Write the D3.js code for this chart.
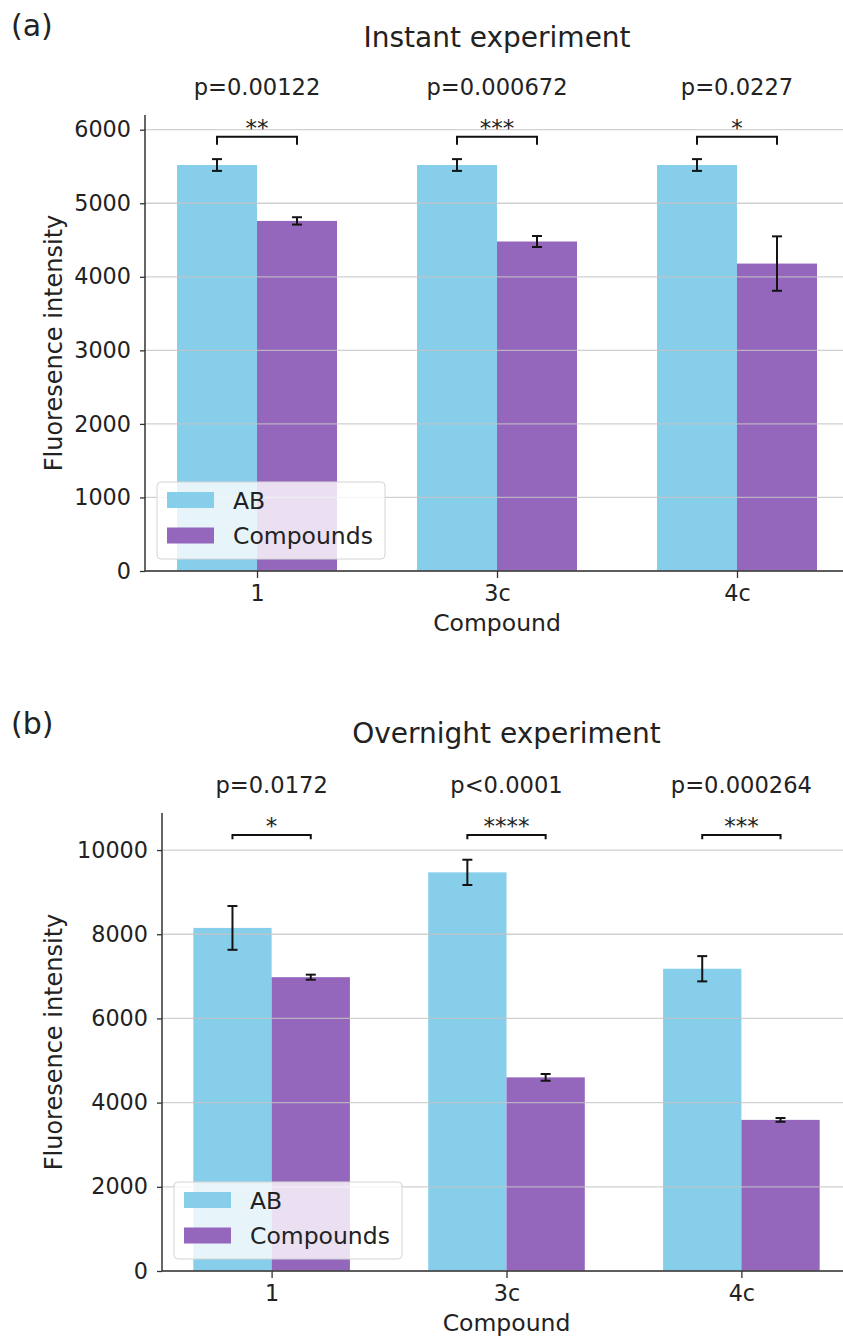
<!DOCTYPE html>
<html><head><meta charset="utf-8">
<script src="https://cdn.jsdelivr.net/npm/d3@7"></script>
<style>
body{margin:0;background:#fff}
svg{display:block}
text{font-family:"DejaVu Sans",sans-serif;fill:#222}
</style>
</head><body><svg id="c" width="843" height="1338"></svg>
<script>
// ---------- data ----------
const categories = ["1", "3c", "4c"];
const seriesNames = ["AB", "Compounds"];
const colors = ["#87ceeb", "#9467bd"];

const instantAB = [5520, 5520, 5520];
const instantABErr = [80, 80, 80];
const instantComp = [4760, 4480, 4180];
const instantCompErr = [50, 75, 370];
const instantP = ["p=0.00122", "p=0.000672", "p=0.0227"];
const instantStars = ["**", "***", "*"];
const instantTicks = [0, 1000, 2000, 3000, 4000, 5000, 6000];

const overnightAB = [8150, 9470, 7180];
const overnightABErr = [520, 300, 300];
const overnightComp = [6980, 4600, 3590];
const overnightCompErr = [60, 80, 45];
const overnightP = ["p=0.0172", "p<0.0001", "p=0.000264"];
const overnightStars = ["*", "****", "***"];
const overnightTicks = [0, 2000, 4000, 6000, 8000, 10000];

const svg = d3.select("#c");

function panel(cfg) {
  const g = svg.append("g");
  const x = d3.scaleLinear().domain([-0.4667, 2.4667]).range([cfg.left, cfg.right]);
  const y = d3.scaleLinear().domain([0, cfg.yMax]).range([cfg.bottom, cfg.top]);
  const bw = 1 / 3;
  const series = [
    {vals: cfg.ab, errs: cfg.abErr, off: -bw, color: colors[0]},
    {vals: cfg.comp, errs: cfg.compErr, off: 0, color: colors[1]}
  ];

  // bars
  series.forEach(s => {
    g.append("g").selectAll("rect").data(categories).join("rect")
      .attr("x", (d, i) => x(i + s.off))
      .attr("width", (d, i) => x(i + s.off + bw) - x(i + s.off))
      .attr("y", (d, i) => y(s.vals[i]))
      .attr("height", (d, i) => y(0) - y(s.vals[i]))
      .attr("fill", s.color);
  });

  // grid (drawn over bars, light)
  g.append("g").selectAll("line").data(cfg.ticks).join("line")
    .attr("x1", cfg.left).attr("x2", cfg.right)
    .attr("y1", d => y(d)).attr("y2", d => y(d))
    .attr("stroke", "#c4c4c4").attr("stroke-opacity", 0.8).attr("stroke-width", 1.3);

  // error bars
  series.forEach(s => {
    const eg = g.append("g").attr("stroke", "#141414").attr("stroke-width", 2);
    categories.forEach((c, i) => {
      const cx = x(i + s.off + bw / 2);
      const y1 = y(s.vals[i] - s.errs[i]), y2 = y(s.vals[i] + s.errs[i]);
      eg.append("line").attr("x1", cx).attr("x2", cx).attr("y1", y1).attr("y2", y2);
      eg.append("line").attr("x1", cx - 5).attr("x2", cx + 5).attr("y1", y1).attr("y2", y1);
      eg.append("line").attr("x1", cx - 5).attr("x2", cx + 5).attr("y1", y2).attr("y2", y2);
    });
  });

  // axes
  const yAxis = d3.axisLeft(y).tickValues(cfg.ticks).tickSize(5).tickPadding(9).tickFormat(d3.format("d"));
  const ya = g.append("g").attr("transform", `translate(${cfg.left},0)`).call(yAxis);
  ya.select(".domain").attr("d", `M0,${cfg.top}V${cfg.bottom}`);
  const xAxis = d3.axisBottom(x).tickValues([0, 1, 2]).tickFormat(i => categories[i]).tickSize(7).tickPadding(7);
  const xa = g.append("g").attr("transform", `translate(0,${cfg.bottom})`).call(xAxis);
  xa.select(".domain").attr("d", `M${cfg.left},0H${cfg.right}`);
  [ya, xa].forEach(a => {
    a.select(".domain").attr("stroke", "#333").attr("stroke-width", 1.5);
    a.selectAll(".tick line").attr("stroke", "#333").attr("stroke-width", 1.3);
    a.selectAll(".tick text").attr("font-size", 22.3).attr("font-family", "DejaVu Sans").attr("fill", "#222");
  });

  // significance brackets
  categories.forEach((c, i) => {
    const xa1 = x(i - bw / 2), xa2 = x(i + bw / 2);
    const yb = y(cfg.bracketY), yt = y(cfg.bracketY - cfg.drop);
    g.append("path").attr("d", `M${xa1},${yt}V${yb}H${xa2}V${yt}`)
      .attr("fill", "none").attr("stroke", "#111").attr("stroke-width", 2);
    g.append("text").attr("x", x(i)).attr("y", yb - 1).attr("text-anchor", "middle")
      .attr("font-size", 23).attr("fill", "#333").text(cfg.stars[i]);
    g.append("text").attr("x", x(i)).attr("y", yb - 42).attr("text-anchor", "middle")
      .attr("font-size", 22.6).text(cfg.p[i]);
  });

  // legend
  const lx = cfg.left + 12, ly = cfg.bottom - 89;
  const lg = g.append("g");
  lg.append("rect").attr("x", lx).attr("y", ly).attr("width", 228).attr("height", 77).attr("rx", 4)
    .attr("fill", "#fff").attr("fill-opacity", 0.8).attr("stroke", "#d4d4d4").attr("stroke-width", 1);
  seriesNames.forEach((n, k) => {
    lg.append("rect").attr("x", lx + 10).attr("y", ly + 10 + k * 35.5).attr("width", 47).attr("height", 16).attr("fill", colors[k]);
    lg.append("text").attr("x", lx + 76).attr("y", ly + 26.5 + k * 35.5).attr("font-size", 23.5).text(n);
  });

  // titles & labels
  g.append("text").attr("x", (cfg.left + cfg.right) / 2).attr("y", cfg.top - cfg.titleGap).attr("text-anchor", "middle")
    .attr("font-size", 28).text(cfg.title);
  g.append("text").attr("x", (cfg.left + cfg.right) / 2).attr("y", cfg.bottom + 60).attr("text-anchor", "middle")
    .attr("font-size", 23.5).text("Compound");
  g.append("text").attr("transform", `translate(62,${(cfg.top + cfg.bottom) / 2}) rotate(-90)`).attr("text-anchor", "middle")
    .attr("font-size", 24).text("Fluoresence intensity");
  g.append("text").attr("x", 11).attr("y", cfg.tagY).attr("font-family", "'Open Sans', sans-serif")
    .attr("font-size", 30).attr("fill", "#000").text(cfg.tag);
}

panel({left: 145, right: 849, top: 115, bottom: 571, yMax: 6200, ticks: instantTicks,
  ab: instantAB, abErr: instantABErr, comp: instantComp, compErr: instantCompErr,
  p: instantP, stars: instantStars, bracketY: 5905, drop: 110,
  title: "Instant experiment", titleGap: 68, tag: "(a)", tagY: 36});

panel({left: 162, right: 851, top: 813, bottom: 1271, yMax: 10880, ticks: overnightTicks,
  ab: overnightAB, abErr: overnightABErr, comp: overnightComp, compErr: overnightCompErr,
  p: overnightP, stars: overnightStars, bracketY: 10356, drop: 100,
  title: "Overnight experiment", titleGap: 70, tag: "(b)", tagY: 734});
</script>
</body></html>
